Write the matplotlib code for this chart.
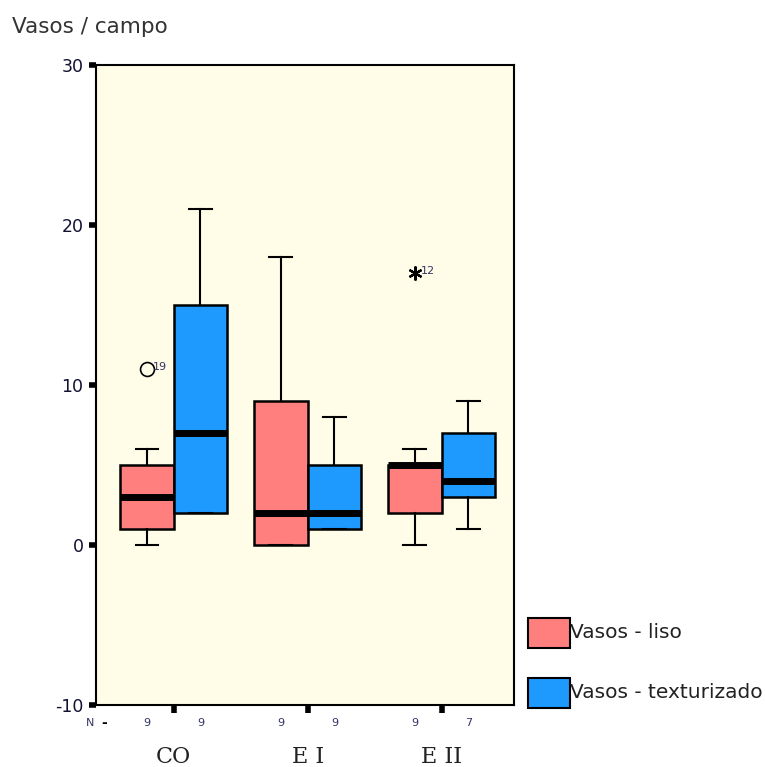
import matplotlib.pyplot as plt
from matplotlib.patches import Rectangle

plt.rcParams["axes.unicode_minus"] = False

# grupos e series
grupos = ["CO", "E I", "E II"]
series = ["Vasos - liso", "Vasos - texturizado"]
cores = ["#ff7f7f", "#1e9aff"]

# resumo de cada caixa: (min, Q1, mediana, Q3, max) por grupo
liso = [(0, 1, 3, 5, 6), (0, 0, 2, 9, 18), (0, 2, 5, 5, 6)]
textur = [(2, 2, 7, 15, 21), (1, 1, 2, 5, 8), (1, 3, 4, 7, 9)]
n_liso = [9, 9, 9]
n_textur = [9, 9, 7]

# valores atipicos: (grupo, valor, caso)
outliers_liso = [(0, 11, "19", "o"), (2, 17, "12", "*")]

fig = plt.figure(figsize=(7.65, 7.67), dpi=100)
ax = fig.add_axes([96 / 765, 62 / 767, 418 / 765, 640 / 767])
ax.set_facecolor("#fffde8")

larg = 0.4
for serie, (dados, desloc) in enumerate([(liso, -0.2), (textur, 0.2)]):
    stats = []
    for mn, q1, med, q3, mx in dados:
        stats.append({"whislo": mn, "q1": q1, "med": med, "q3": q3,
                      "whishi": mx, "fliers": []})
    pos = [i + desloc for i in range(len(grupos))]
    ax.bxp(stats, positions=pos, widths=larg, patch_artist=True,
           showfliers=False,
           boxprops=dict(facecolor=cores[serie], edgecolor="black", linewidth=1.8),
           medianprops=dict(color="black", linewidth=5, solid_capstyle="butt"),
           whiskerprops=dict(color="black", linewidth=1.5),
           capprops=dict(color="black", linewidth=1.5),
           capwidths=0.17, manage_ticks=False)

for g, val, caso, mk in outliers_liso:
    x = g - 0.2
    if mk == "o":
        ax.plot(x, val, marker="o", mfc="none", mec="black", ms=10, mew=1.2)
    else:
        ax.plot(x, val, marker=(6, 2, 0), color="black", ms=10, mew=1.6)
    ax.text(x + 0.045, val + 0.15, caso, fontsize=8, color="#333366",
            va="center", ha="left")

ax.set_xlim(-0.58, 2.54)
ax.set_ylim(-10, 30)
ax.set_yticks([-10, 0, 10, 20, 30])
ax.set_xticks(range(len(grupos)))
ax.set_xticklabels([])
ax.tick_params(axis="y", length=5, width=4, labelsize=12.5, pad=4,
               labelcolor="#111133")
ax.tick_params(axis="x", length=6, width=4)
for s in ax.spines.values():
    s.set_linewidth(1.5)

# contagens N abaixo do eixo
fig.text(90 / 765, 1 - 723 / 767, "N", fontsize=8, color="#333366",
         ha="center", va="center")
fig.text(104 / 765, 1 - 723 / 767, "-", fontsize=10, fontweight="bold",
         ha="center", va="center")
for i in range(len(grupos)):
    for desloc, n in [(-0.2, n_liso[i]), (0.2, n_textur[i])]:
        xd = ax.transData.transform((i + desloc, 0))[0]
        fig.text(xd / 765, 1 - 723 / 767, str(n), fontsize=8,
                 color="#333366", ha="center", va="center")
    xd = ax.transData.transform((i, 0))[0]
    fig.text(xd / 765, 1 - 757 / 767, grupos[i], fontsize=16,
             family="DejaVu Serif", ha="center", va="center", color="#222222")

fig.text(12 / 765, 1 - 27 / 767, "Vasos / campo", fontsize=15.5,
         color="#333333", ha="left", va="center")

# legenda
for k, (nome, cor) in enumerate(zip(series, cores)):
    y0 = 1 - (648 + 60 * k) / 767
    fig.patches.append(Rectangle((528 / 765, y0), 42 / 765, 30 / 767,
                                 facecolor=cor, edgecolor="black", lw=1.5,
                                 transform=fig.transFigure))
    fig.text(570 / 765, y0 + 15 / 767, nome, fontsize=14.5, color="#222222",
             ha="left", va="center")

fig.savefig("out.png", dpi=100)
